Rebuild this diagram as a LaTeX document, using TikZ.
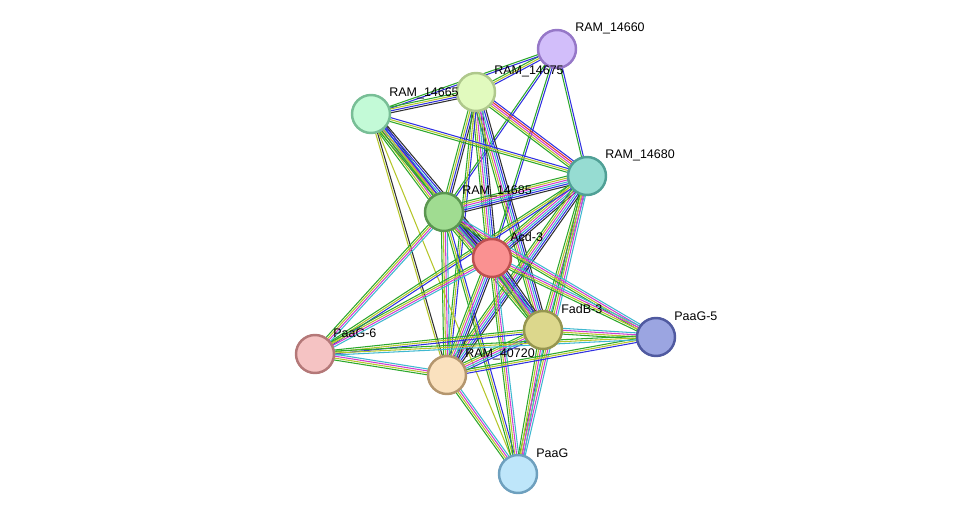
\documentclass[tikz,border=0pt]{standalone}
\usepackage{fontspec}
\setmainfont{Liberation Sans}
\usetikzlibrary{calc}
\definecolor{cgreen}{HTML}{2CA82C}
\definecolor{cyell}{HTML}{B5C62A}
\definecolor{cmag}{HTML}{D13DD1}
\definecolor{ccyan}{HTML}{3FB8D0}
\definecolor{cblue}{HTML}{3030E0}
\definecolor{cblack}{HTML}{303030}
\definecolor{cred}{HTML}{E03030}
% colour sets for the evidence lines
\def\cfull{cgreen,cyell,cmag,ccyan,cblue,cblack}
\def\cmid{cgreen,cyell,cmag,ccyan}
\def\cfew{cgreen,cyell,cblue}
% #1,#2 nodes, #3 number of lines, #4 colours
\newcommand{\linkedge}[4]{%
  \edef\clist{#4}%
  \foreach \c [count=\i] in \clist {
    \pgfmathsetmacro\d{(\i-(#3+1)/2)*1.1}
    \draw[\c,line width=0.6pt] ($(#1)!\d pt!90:(#2)$) -- ($(#2)!\d pt!-90:(#1)$);
  }}
\begin{document}
\begin{tikzpicture}[x=0.02cm,y=-0.02cm,font=\fontsize{7.1}{9}\selectfont]
\tikzstyle{protein}=[circle,minimum size=0.76cm,inner sep=0,line width=1.4pt];
\tikzstyle{plabel}=[anchor=west,inner sep=0];
\useasboundingbox (0,0) rectangle (975,520);
% coordinates of the proteins
\coordinate (p60) at (557,49);
\coordinate (p75) at (476,92);
\coordinate (p65) at (371,114);
\coordinate (p80) at (587,176);
\coordinate (p85) at (444,212);
\coordinate (acd) at (492,258);
\coordinate (fadb) at (543,330);
\coordinate (pg5) at (656,337);
\coordinate (pg6) at (315,354);
\coordinate (r40) at (447,375);
\coordinate (pg) at (518,474);
% edges
\linkedge{p60}{p75}{3}{\cfew}
\linkedge{p60}{p65}{2}{cgreen,cblue}
\linkedge{p60}{p80}{2}{cgreen,cblue}
\linkedge{p60}{p85}{2}{cgreen,cblue}
\linkedge{p60}{acd}{2}{cgreen,cblue}
\linkedge{p75}{p65}{4}{cgreen,cyell,cblue,cblack}
\linkedge{p75}{p80}{5}{cgreen,cyell,cmag,cred,cblue}
\linkedge{p75}{p85}{4}{cgreen,cyell,cblue,cblack}
\linkedge{p75}{acd}{6}{\cfull}
\linkedge{p75}{fadb}{6}{\cfull}
\linkedge{p75}{r40}{3}{\cfew}
\linkedge{p65}{p80}{3}{\cfew}
\linkedge{p65}{p85}{6}{\cfull}
\linkedge{p65}{acd}{6}{\cfull}
\linkedge{p65}{fadb}{3}{\cfew}
\linkedge{p65}{r40}{2}{cyell,cblack}
\linkedge{p65}{pg}{1}{cyell}
\linkedge{p80}{p85}{6}{\cfull}
\linkedge{p80}{acd}{6}{\cfull}
\linkedge{p80}{fadb}{4}{\cmid}
\linkedge{p80}{r40}{6}{\cfull}
\linkedge{p80}{pg}{4}{\cmid}
\linkedge{p80}{pg6}{3}{\cfew}
\linkedge{p85}{acd}{6}{\cfull}
\linkedge{p85}{fadb}{6}{\cfull}
\linkedge{p85}{pg5}{4}{\cmid}
\linkedge{p85}{pg6}{4}{\cmid}
\linkedge{p85}{r40}{4}{\cmid}
\linkedge{p85}{pg}{3}{\cfew}
\linkedge{acd}{fadb}{6}{\cfull}
\linkedge{acd}{pg5}{4}{\cmid}
\linkedge{acd}{pg6}{4}{\cmid}
\linkedge{acd}{r40}{6}{\cfull}
\linkedge{acd}{pg}{4}{\cmid}
\linkedge{fadb}{pg5}{4}{\cmid}
\linkedge{fadb}{pg6}{3}{\cfew}
\linkedge{fadb}{r40}{5}{cgreen,cyell,cmag,ccyan,cblue}
\linkedge{fadb}{pg}{4}{\cmid}
\linkedge{pg5}{r40}{3}{\cfew}
\linkedge{pg5}{pg6}{3}{cgreen,cyell,ccyan}
\linkedge{pg6}{r40}{4}{\cmid}
\linkedge{r40}{pg}{4}{\cmid}
% proteins
\node[protein,fill={rgb,255:red,210;green,190;blue,250},draw={rgb,255:red,150;green,120;blue,200}] (n60) at (p60) {};
\node[protein,fill={rgb,255:red,225;green,250;blue,190},draw={rgb,255:red,175;green,200;blue,140}] (n75) at (p75) {};
\node[protein,fill={rgb,255:red,195;green,250;blue,215},draw={rgb,255:red,120;green,190;blue,150}] (n65) at (p65) {};
\node[protein,fill={rgb,255:red,150;green,220;blue,210},draw={rgb,255:red,80;green,160;blue,150}] (n80) at (p80) {};
\node[protein,fill={rgb,255:red,160;green,220;blue,145},draw={rgb,255:red,90;green,150;blue,80}] (n85) at (p85) {};
\node[protein,fill={rgb,255:red,220;green,215;blue,140},draw={rgb,255:red,150;green,150;blue,80}] (nfadb) at (fadb) {};
\node[protein,fill={rgb,255:red,155;green,165;blue,225},draw={rgb,255:red,80;green,90;blue,160}] (npg5) at (pg5) {};
\node[protein,fill={rgb,255:red,245;green,195;blue,195},draw={rgb,255:red,180;green,120;blue,120}] (npg6) at (pg6) {};
\node[protein,fill={rgb,255:red,250;green,225;blue,190},draw={rgb,255:red,180;green,150;blue,110}] (nr40) at (r40) {};
\node[protein,fill={rgb,255:red,190;green,230;blue,250},draw={rgb,255:red,110;green,160;blue,190}] (npg) at (pg) {};
\node[protein,fill={rgb,255:red,250;green,145;blue,145},draw={rgb,255:red,190;green,80;blue,80}] (nacd) at (acd) {};
% labels
\node[plabel] at ($(p60)+(18,-21)$) {RAM\_14660};
\node[plabel] at ($(p75)+(18,-21)$) {RAM\_14675};
\node[plabel] at ($(p65)+(18,-21)$) {RAM\_14665};
\node[plabel] at ($(p80)+(18,-21)$) {RAM\_14680};
\node[plabel] at ($(p85)+(18,-21)$) {RAM\_14685};
\node[plabel] at ($(acd)+(18,-21)$) {Acd-3};
\node[plabel] at ($(fadb)+(18,-21)$) {FadB-3};
\node[plabel] at ($(pg5)+(18,-21)$) {PaaG-5};
\node[plabel] at ($(pg6)+(18,-21)$) {PaaG-6};
\node[plabel] at ($(r40)+(18,-21)$) {RAM\_40720};
\node[plabel] at ($(pg)+(18,-21)$) {PaaG};
\end{tikzpicture}
\end{document}
